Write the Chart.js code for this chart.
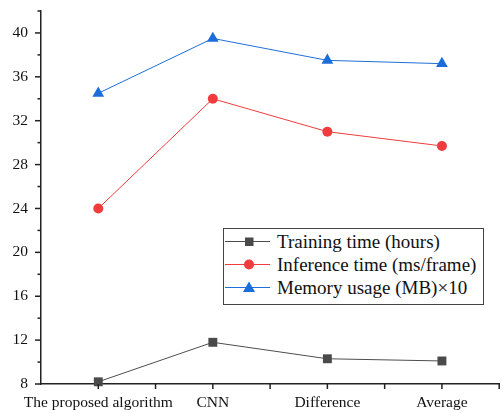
<!DOCTYPE html>
<html><head><meta charset="utf-8">
<script src="https://cdn.jsdelivr.net/npm/chart.js@4"></script>
<style>
html,body{margin:0;padding:0;background:#fff;overflow:hidden;width:503px;height:413px}
#wrap{position:relative;width:506px;height:413px}
#c{display:block}
#legend{position:absolute;left:223px;top:228px;width:261px;height:77px;border:1px solid #444;box-sizing:border-box;background:#fff;font-family:"Liberation Serif","Times New Roman",Times,serif;font-size:19px;color:#111}
.row{position:absolute;left:0;height:23px;display:flex;align-items:center;white-space:nowrap}
.row svg{margin-right:6px;flex:none}
</style></head>
<body><div id="wrap"><canvas id="c"></canvas><div id="legend"></div></div>
<script>
const categories=["The proposed algorithm","CNN","Difference","Average"];
const trainingTime=[8.2,11.8,10.3,10.1];
const inferenceTime=[24.0,34.0,31.0,29.7];
const memoryUsage=[34.5,39.5,37.5,37.2];
const seriesLabels=["Training time (hours)","Inference time (ms/frame)","Memory usage (MB)\u00d710"];
const yTicks=[8,12,16,20,24,28,32,36,40];
const yMin=8,yMax=42;

const FONT='"Liberation Serif", "Times New Roman", Times, serif';
const colors=["#4d4d4d","#f03c3c","#1e6fd9"];
const markerColors=["#4a4a4a","#f03c3c","#1a6ddb"];
const styles=["rect","circle","triangle"];
const radii=[6.3,5,6.8];
const seriesData=[trainingTime,inferenceTime,memoryUsage];

const axisTicks={id:'axisTicks',afterDraw(chart){
  const ctx=chart.ctx,y=chart.scales.y,x=chart.scales.x,ca=chart.chartArea;
  ctx.save();ctx.strokeStyle='#222';ctx.lineWidth=1.5;
  for(let v=yMin;v<=yMax;v+=2){
    const py=y.getPixelForValue(v);const len=(v%4===0)?6:3.5;
    ctx.beginPath();ctx.moveTo(ca.left,py);ctx.lineTo(ca.left-len,py);ctx.stroke();
  }
  const step=x.getPixelForValue(1)-x.getPixelForValue(0);
  for(let i=0;i<categories.length;i++){
    const px=x.getPixelForValue(i);
    [px,px+step/2].forEach(p=>{ctx.beginPath();ctx.moveTo(p,ca.bottom);ctx.lineTo(p,ca.bottom+5);ctx.stroke();});
  }
  ctx.restore();
}};

const canvas=document.getElementById('c');
canvas.width=506;canvas.height=413;canvas.style.width='506px';canvas.style.height='413px';
new Chart(canvas,{
  type:'line',
  data:{labels:categories,datasets:seriesData.map((d,i)=>({
    label:seriesLabels[i],data:d,borderColor:colors[i],backgroundColor:markerColors[i],
    pointBackgroundColor:markerColors[i],pointBorderColor:markerColors[i],pointBorderWidth:0,
    pointStyle:styles[i],pointRadius:radii[i],borderWidth:1,tension:0,clip:false
  }))},
  options:{
    responsive:false,animation:false,devicePixelRatio:1,
    layout:{padding:{top:11,left:0,right:0,bottom:0}},
    plugins:{legend:{display:false},tooltip:{enabled:false}},
    scales:{
      x:{type:'category',offset:true,
        grid:{display:true,drawOnChartArea:false,drawTicks:false},
        border:{color:'#222',width:1.5},
        ticks:{padding:10,color:'#111',font:{family:FONT,size:15.5},maxRotation:0,autoSkip:false},
        afterFit:s=>{s.height=29;s.paddingLeft=0;s.paddingRight=0;}
      },
      y:{min:yMin,max:yMax,
        grid:{display:true,drawOnChartArea:false,drawTicks:false},
        border:{color:'#222',width:1.5},
        afterBuildTicks:s=>{s.ticks=yTicks.map(v=>({value:v}));},
        ticks:{padding:13,color:'#111',font:{family:FONT,size:15.5}},
        afterFit:s=>{s.width=41;s.paddingTop=0;s.paddingBottom=0;}
      }
    }
  },
  plugins:[axisTicks]
});

const legend=document.getElementById('legend');
const rowTops=[1,24,47];
seriesLabels.forEach((lab,i)=>{
  const r=document.createElement('div');r.className='row';r.style.top=rowTops[i]+'px';
  let m='';
  if(styles[i]==='rect')m='<rect x="21" y="7.5" width="8.5" height="8.5" fill="'+markerColors[i]+'"/>';
  else if(styles[i]==='circle')m='<circle cx="25" cy="11.5" r="5" fill="'+markerColors[i]+'"/>';
  else m='<polygon points="25,5.5 31,16 19,16" fill="'+markerColors[i]+'"/>';
  r.innerHTML='<svg width="47" height="23"><line x1="1" y1="11.5" x2="46" y2="11.5" stroke="'+colors[i]+'" stroke-width="1"/>'+m+'</svg><span>'+lab+'</span>';
  legend.appendChild(r);
});
</script>
</body></html>
